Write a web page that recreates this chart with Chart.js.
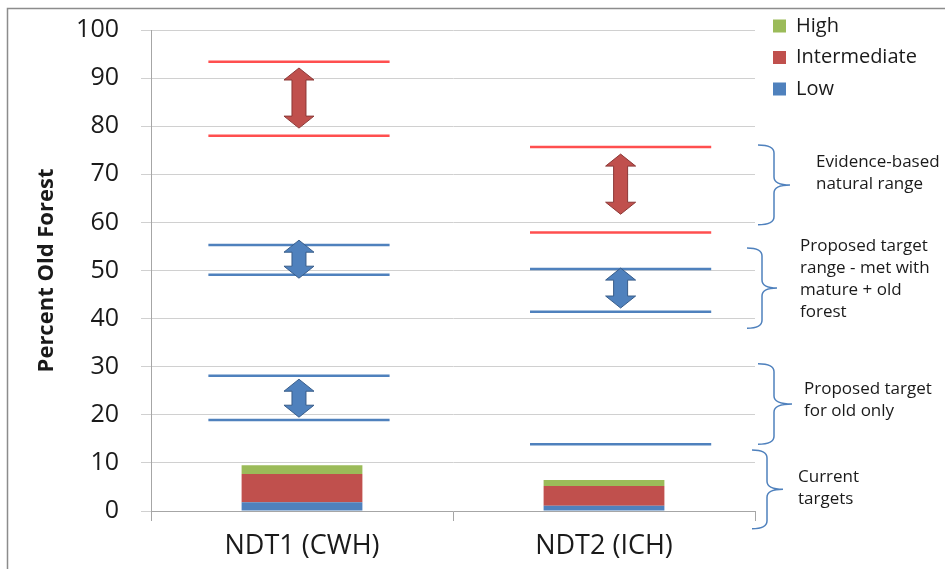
<!DOCTYPE html>
<html>
<head>
<meta charset="utf-8">
<title>Percent Old Forest</title>
<script src="https://cdn.jsdelivr.net/npm/chart.js@4.4.1/dist/chart.umd.min.js"></script>
<style>
  html, body { margin: 0; padding: 0; background: #fff; }
  #wrap { width: 945px; height: 569px; }
</style>
</head>
<body>
<div id="wrap"><canvas id="oldForestChart" width="945" height="569"></canvas></div>
<script>
// Data
const categories = ["NDT1 (CWH)", "NDT2 (ICH)"];
const lowValues = [1.8, 1.1];
const intermediateValues = [5.9, 4.1];
const highValues = [1.8, 1.25];

// Range lines (which category, level in percent, kind of range)
const lineCategory = [0, 0, 0, 0, 0, 0, 1, 1, 1, 1, 1];
const lineLevel = [93.4, 78.0, 55.3, 49.1, 28.1, 18.9, 75.7, 57.9, 50.3, 41.4, 13.9];
const lineKind = ["natural", "natural", "mature", "mature", "old", "old",
                  "natural", "natural", "mature", "mature", "old"];

// Double arrows between range lines
const arrowCategory = [0, 0, 0, 1, 1];
const arrowTop = [92.1, 56.3, 27.4, 74.2, 50.5];
const arrowBottom = [79.6, 48.4, 19.5, 61.7, 42.2];
const arrowKind = ["natural", "mature", "old", "natural", "mature"];

// Braces on the right
const braceTop = [76.1, 54.7, 30.6, 12.7];
const braceBottom = [59.5, 38.0, 13.9, -3.7];
const braceLabels = [
  ["Evidence-based", "natural range"],
  ["Proposed target", "range - met with", "mature + old", "forest"],
  ["Proposed target", "for old only"],
  ["Current", "targets"],
];

// Styling / layout
const FONT = "'Open Sans', 'DejaVu Sans', sans-serif";
const TEXT = "#1a1a1a";
const kindColour = { natural: "#ff4f4f", mature: "#4f81bd", old: "#4f81bd" };
const arrowFill = { natural: "#c0504d", mature: "#4f81bd", old: "#4f81bd" };
const arrowEdge = { natural: "#8c3836", mature: "#385d8a", old: "#385d8a" };
const markerCentre = [0.49, 1.555]; // on the hidden 0..2 x scale
const lineHalf = 0.3;
const braceEnd = [3, -8, 3, -3];
const braceSpine = [19, 7, 19, 12];
const braceTip = [35, 22, 37, 28];
const braceTextX = [61, 45, 49, 43];
const braceTextShift = [-12, -8.5, -3.5, -1.5];

// Build datasets
const datasets = [
  { label: "Low", data: lowValues, backgroundColor: "#4f81bd" },
  { label: "Intermediate", data: intermediateValues, backgroundColor: "#c0504d" },
  { label: "High", data: highValues, backgroundColor: "#9bbb59" },
];
datasets.forEach(d => {
  d.stack = "cur";
  d.grouped = false;
  d.barPercentage = 1;
  d.categoryPercentage = 0.4;
  d.borderWidth = 0;
});

lineLevel.forEach((level, i) => {
  const c = markerCentre[lineCategory[i]];
  datasets.push({
    type: "line",
    label: "range" + i,
    xAxisID: "xl",
    stack: "line" + i,
    data: [{ x: c - lineHalf, y: level }, { x: c + lineHalf, y: level }],
    borderColor: kindColour[lineKind[i]],
    borderWidth: 2.5,
    pointRadius: 0,
    fill: false,
  });
});

// Plugins
const framePlugin = {
  id: "frame",
  beforeDraw(chart) {
    const ctx = chart.ctx;
    ctx.save();
    ctx.strokeStyle = "#8c8c8c";
    ctx.lineWidth = 1.5;
    ctx.beginPath();
    ctx.moveTo(7.5, chart.height);
    ctx.lineTo(7.5, 8.5);
    ctx.lineTo(chart.width, 8.5);
    ctx.stroke();
    ctx.restore();
  },
};

const legendPlacePlugin = {
  id: "legendPlace",
  beforeInit(chart) {
    const fit = chart.legend.fit;
    chart.legend.fit = function () {
      fit.call(this);
      this.width = 190;
    };
  },
  afterLayout(chart) {
    chart.legend.left += 6.5;
    chart.legend.top += 4.5;
  },
};

const arrowPlugin = {
  id: "arrows",
  afterDatasetsDraw(chart) {
    const ctx = chart.ctx;
    const xs = chart.scales.xl;
    const ys = chart.scales.y;
    const hw = 15, sw = 7, hh = 12;
    ctx.save();
    arrowTop.forEach((top, i) => {
      const cx = xs.getPixelForValue(markerCentre[arrowCategory[i]]);
      const yt = ys.getPixelForValue(top);
      const yb = ys.getPixelForValue(arrowBottom[i]);
      ctx.beginPath();
      ctx.moveTo(cx, yt);
      ctx.lineTo(cx + hw, yt + hh);
      ctx.lineTo(cx + sw, yt + hh);
      ctx.lineTo(cx + sw, yb - hh);
      ctx.lineTo(cx + hw, yb - hh);
      ctx.lineTo(cx, yb);
      ctx.lineTo(cx - hw, yb - hh);
      ctx.lineTo(cx - sw, yb - hh);
      ctx.lineTo(cx - sw, yt + hh);
      ctx.lineTo(cx - hw, yt + hh);
      ctx.closePath();
      ctx.fillStyle = arrowFill[arrowKind[i]];
      ctx.fill();
      ctx.strokeStyle = arrowEdge[arrowKind[i]];
      ctx.lineWidth = 1;
      ctx.stroke();
    });
    ctx.restore();
  },
};

const bracePlugin = {
  id: "braces",
  afterDraw(chart) {
    const ctx = chart.ctx;
    const ys = chart.scales.y;
    const right = chart.chartArea.right;
    ctx.save();
    braceTop.forEach((top, i) => {
      const yt = ys.getPixelForValue(top);
      const yb = ys.getPixelForValue(braceBottom[i]);
      const ym = (yt + yb) / 2;
      const xe = right + braceEnd[i];
      const xv = right + braceSpine[i];
      const xt = right + braceTip[i];
      const r = 8;
      ctx.beginPath();
      ctx.moveTo(xe, yt);
      ctx.quadraticCurveTo(xv, yt, xv, yt + r);
      ctx.lineTo(xv, ym - r);
      ctx.quadraticCurveTo(xv, ym, xt, ym);
      ctx.quadraticCurveTo(xv, ym, xv, ym + r);
      ctx.lineTo(xv, yb - r);
      ctx.quadraticCurveTo(xv, yb, xe, yb);
      ctx.strokeStyle = "#4f81bd";
      ctx.lineWidth = 1.5;
      ctx.stroke();

      const lines = braceLabels[i];
      const lh = 22;
      const y0 = ym + braceTextShift[i] - (lines.length - 1) * lh / 2;
      ctx.fillStyle = TEXT;
      ctx.font = "17px " + FONT;
      ctx.textBaseline = "middle";
      ctx.textAlign = "left";
      lines.forEach((t, k) => ctx.fillText(t, right + braceTextX[i], y0 + k * lh));
    });
    ctx.restore();
  },
};

// Chart
new Chart(document.getElementById("oldForestChart"), {
  type: "bar",
  data: { labels: categories, datasets: datasets },
  options: {
    responsive: false,
    animation: false,
    layout: { padding: { top: 0, left: 8, right: 0, bottom: 0 } },
    plugins: {
      legend: {
        position: "right",
        align: "start",
        reverse: true,
        labels: {
          boxWidth: 13,
          boxHeight: 13,
          padding: 11.5,
          color: TEXT,
          font: { family: FONT, size: 20 },
          filter: item => item.datasetIndex < 3,
        },
      },
      tooltip: { enabled: false },
    },
    scales: {
      x: {
        stacked: true,
        offset: true,
        grid: { drawOnChartArea: false, tickLength: 10, color: "#a6a6a6", offset: true },
        border: { color: "#a6a6a6" },
        ticks: { padding: 9, color: TEXT, font: { family: FONT, size: 27 } },
        afterFit: s => { s.height = 58; },
      },
      xl: { type: "linear", axis: "x", position: "bottom", display: false, offset: false, min: 0, max: 2 },
      y: {
        stacked: true,
        min: 0,
        max: 100,
        ticks: { stepSize: 10, padding: 22, color: TEXT, font: { family: FONT, size: 25 } },
        grid: { color: "#d0d0d0", tickLength: 10 },
        border: { color: "#a6a6a6" },
        title: {
          display: true,
          text: "Percent Old Forest",
          color: TEXT,
          font: { family: FONT, size: 22, weight: "bold" },
          padding: { top: 26 },
        },
        afterFit: s => {
          s.width = 143;
          s.paddingTop = 30;
        },
      },
    },
  },
  plugins: [framePlugin, legendPlacePlugin, arrowPlugin, bracePlugin],
});
</script>
</body>
</html>
